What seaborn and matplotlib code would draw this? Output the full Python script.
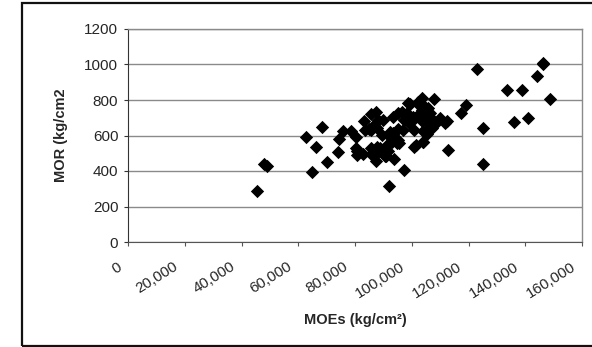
import matplotlib
matplotlib.use("Agg")
import matplotlib.pyplot as plt
import matplotlib.transforms as mtransforms
from matplotlib.patches import Rectangle
from matplotlib.ticker import FuncFormatter
import seaborn as sns
import pandas as pd

# Static modulus of elasticity (kg/cm2) for each specimen
moe = [
    45300, 48000, 48900, 62900, 66100, 64900, 68200, 70100, 74100, 74400,
    75900, 78700, 80400, 80300, 80800, 80600, 82900, 83300, 83500, 85500,
    85000, 85800, 86400, 85500, 85800, 87400, 87600, 88200, 87400, 87600,
    87000, 87600, 88200, 88800, 89400, 90000, 89700, 89400, 90600, 90600,
    91100, 91200, 91700, 92000, 92300, 92700, 93300, 92900, 93500, 93700,
    94700, 95300, 95300, 95600, 95300, 96400, 97000, 97300, 97400, 98200,
    98800, 99400, 99100, 100500, 100800, 100900, 101500, 101100, 102300, 102300,
    102900, 103500, 103500, 103700, 103800, 104100, 104100, 104700, 104700, 105300,
    105300, 105800, 106400, 106400, 107000, 107000, 107800, 108200, 110000, 111700,
    112300, 112700, 117200, 119100, 122900, 125000, 125200, 133700, 136200, 138800,
    140800, 144100, 146400, 146200, 148600,
]

# Modulus of rupture (kg/cm2) for the same specimens
mor = [
    285, 440, 430, 594, 534, 397, 650, 448, 506, 581,
    624, 624, 589, 529, 510, 488, 497, 679, 630, 722,
    636, 632, 651, 529, 497, 735, 641, 688, 454, 538,
    519, 501, 510, 529, 604, 688, 519, 510, 482, 491,
    482, 547, 510, 317, 622, 585, 707, 566, 613, 467,
    557, 576, 638, 557, 726, 735, 632, 688, 403, 726,
    782, 778, 669, 707, 632, 534, 544, 697, 778, 791,
    726, 810, 744, 679, 561, 628, 566, 763, 688, 609,
    632, 754, 707, 726, 641, 669, 804, 666, 697, 669,
    679, 519, 729, 772, 973, 641, 439, 857, 675, 857,
    697, 937, 1003, 1007, 804,
]

x_ticks = list(range(0, 160001, 20000))
y_ticks = list(range(0, 1201, 200))

df = pd.DataFrame({"MOEs": moe, "MOR": mor})

sns.set_style("white")
plt.rcParams["font.family"] = ["Liberation Sans", "DejaVu Sans"]

fig = plt.figure(figsize=(5.92, 3.47), dpi=100)
ax = fig.add_axes([128 / 592, 1 - 242 / 347, (582 - 128) / 592, (242 - 29) / 347])

grid_col = "#8a8a8a"
ax.set_axisbelow(True)
ax.yaxis.grid(True, color=grid_col, linewidth=1.0)
ax.xaxis.grid(False)

sns.scatterplot(data=df, x="MOEs", y="MOR", marker="D", color="black",
                s=46, linewidth=0, ax=ax, legend=False, zorder=3)

ax.set_xlim(0, 160000)
ax.set_ylim(0, 1200)
ax.set_xticks(x_ticks)
ax.set_yticks(y_ticks)
ax.xaxis.set_major_formatter(FuncFormatter(lambda v, p: f"{int(v):,}"))

for side in ("top", "right"):
    ax.spines[side].set_visible(True)
    ax.spines[side].set_color(grid_col)
    ax.spines[side].set_linewidth(1.0)
ax.spines["left"].set_color("#333333")
ax.spines["left"].set_linewidth(0.8)
ax.spines["bottom"].set_color("#555555")
ax.spines["bottom"].set_linewidth(0.8)

ax.tick_params(axis="y", direction="out", length=3, width=0.8, color="#333333",
               labelsize=11, pad=4, left=True)
ax.tick_params(axis="x", direction="out", length=3, width=0.8, color="#555555",
               labelsize=11, pad=14, bottom=True)

shift = mtransforms.ScaledTranslation(-8 / 100, 0, fig.dpi_scale_trans)
for lbl in ax.get_xticklabels():
    lbl.set_rotation(32)
    lbl.set_ha("right")
    lbl.set_va("center")
    lbl.set_rotation_mode("anchor")
    lbl.set_transform(lbl.get_transform() + shift)

ax.set_xlabel("MOEs (kg/cm²)", fontsize=10.5, fontweight="bold", labelpad=9)
ax.set_ylabel("MOR (kg/cm2", fontsize=10.5, fontweight="bold", labelpad=12)

# Outer chart frame
fig.patches.append(Rectangle((22 / 592, 1 / 347), 1.2, 343 / 347, transform=fig.transFigure,
                             fill=False, edgecolor="#111111", linewidth=1.6, zorder=10))

fig.savefig("out.png", dpi=100)
